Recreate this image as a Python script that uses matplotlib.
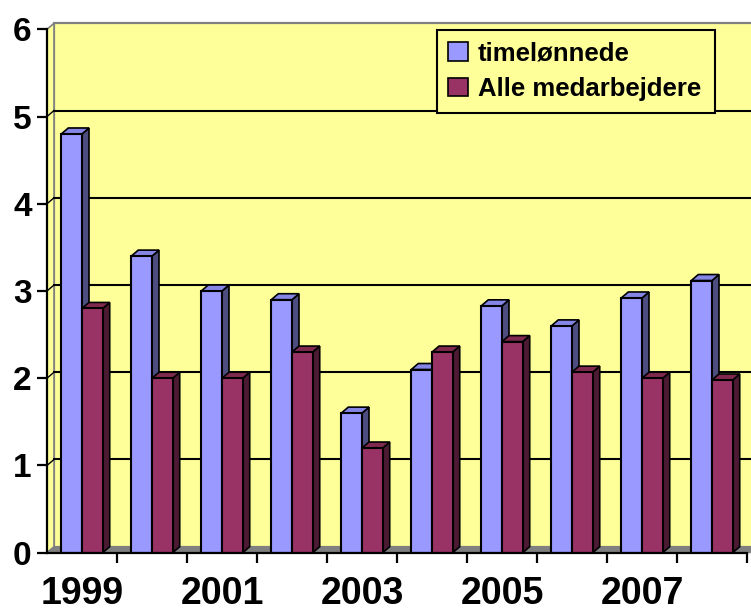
import numpy as np
import matplotlib
matplotlib.use('Agg')
from matplotlib import pyplot as plt
from matplotlib.patches import Polygon, Rectangle, Patch

years = ['1999', '2000', '2001', '2002', '2003', '2004', '2005', '2006', '2007', '2008']
timeloennede = [4.8, 3.4, 3.0, 2.9, 1.6, 2.1, 2.83, 2.6, 2.92, 3.12]
alle = [2.8, 2.0, 2.0, 2.3, 1.2, 2.3, 2.42, 2.07, 2.0, 1.98]
series_names = ['timelønnede', 'Alle medarbejdere']

plt.rcParams['font.family'] = ['Liberation Sans', 'DejaVu Sans']
plt.rcParams['font.weight'] = 'bold'

W, H = 751, 613
fig = plt.figure(figsize=(W / 100, H / 100), dpi=100)
# axes front plane in pixels: x 47..747, y(0)=552.7, y(6)=29.3
ax = fig.add_axes([47 / W, (H - 552.7) / H, 700 / W, 523.4 / H])
ax.set_xlim(-0.5, 9.5)
ax.set_ylim(0, 6)
ax.patch.set_visible(False)

# 3d depth offset in data units (7px right, 6px up)
dx = 7 / 70.0
dy = 6 / 87.23
x0, x1 = -0.5, 9.5

wall = '#FFFF99'
grey = '#808080'

# back wall
ax.add_patch(Rectangle((x0 + dx, dy), x1 - x0 + 0.5, 6, facecolor=wall,
                       edgecolor=grey, lw=1.6, zorder=0.5, clip_on=False))
# side wall
ax.add_patch(Polygon([(x0, 0), (x0, 6), (x0 + dx, 6 + dy), (x0 + dx, dy)],
                     closed=True, facecolor=wall, edgecolor=grey, lw=1.2,
                     zorder=0.5, clip_on=False))
# floor
ax.add_patch(Polygon([(x0, 0), (x1 + 0.5, 0), (x1 + 0.5 + dx, dy), (x0 + dx, dy)],
                     closed=True, facecolor=grey, edgecolor=grey, lw=0.8,
                     zorder=0.6, clip_on=False))
# gridlines on back wall and side wall
for v in range(1, 6):
    ax.plot([x0 + dx, x1 + 0.5], [v + dy, v + dy], color='black', lw=1.5,
            zorder=0.7, clip_on=False)
    ax.plot([x0, x0 + dx], [v, v + dy], color='black', lw=1.0, zorder=0.7,
            clip_on=False)

x = np.arange(len(years))
bw = 0.296
styles = [
    (timeloennede, -bw / 2, '#9999FF', '#8585E6', '#4D4D80'),
    (alle, bw / 2, '#993366', '#80294F', '#4D1A33'),
]

# draw bars left to right so later fronts cover earlier sides
z = 2
for i in range(len(years)):
    for vals, off, front, top, side in styles:
        xc = x[i] + off
        xl, xr = xc - bw / 2, xc + bw / 2
        v = vals[i]
        ax.bar(xc, v, width=bw, color=front, edgecolor='black', lw=1.5,
               zorder=z)
        ax.add_patch(Polygon([(xr, 0), (xr + dx, dy), (xr + dx, v + dy), (xr, v)],
                             closed=True, facecolor=side, edgecolor='black',
                             lw=1.2, zorder=z - 0.1))
        ax.add_patch(Polygon([(xl, v), (xl + dx, v + dy), (xr + dx, v + dy), (xr, v)],
                             closed=True, facecolor=top, edgecolor='black',
                             lw=1.2, zorder=z - 0.1))
        z += 1

for s in ['top', 'right']:
    ax.spines[s].set_visible(False)
for s in ['left', 'bottom']:
    ax.spines[s].set_color('black')
    ax.spines[s].set_linewidth(1.6)
    ax.spines[s].set_zorder(100)

ax.set_yticks(range(0, 7))
ax.tick_params(axis='y', length=7, width=1.6, pad=4, labelsize=24)
for lab in ax.get_yticklabels():
    lab.set_fontweight('bold')

ax.set_xticks(x[::2])
ax.set_xticklabels(years[::2], fontsize=27, fontweight='bold')
ax.set_xticks(np.arange(len(years)) + 0.5, minor=True)
ax.tick_params(axis='x', which='major', length=0, pad=17)
ax.tick_params(axis='x', which='minor', length=7, width=1.6)

handles = [Patch(facecolor='#9999FF', edgecolor='black', lw=1.2),
           Patch(facecolor='#993366', edgecolor='black', lw=1.2)]
leg = ax.legend(handles, series_names, loc='upper left',
                bbox_to_anchor=(0.557, 0.999, 0.397, 0.0), mode='expand',
                borderaxespad=0,
                prop={'size': 18.5, 'weight': 'bold'},
                facecolor=wall, edgecolor='black', framealpha=1, fancybox=False,
                handlelength=0.75, handleheight=0.75, handletextpad=0.4,
                labelspacing=0.45, borderpad=0.45)
leg.get_frame().set_linewidth(1.5)
leg.set_zorder(200)

plt.savefig('out.png', dpi=100)
